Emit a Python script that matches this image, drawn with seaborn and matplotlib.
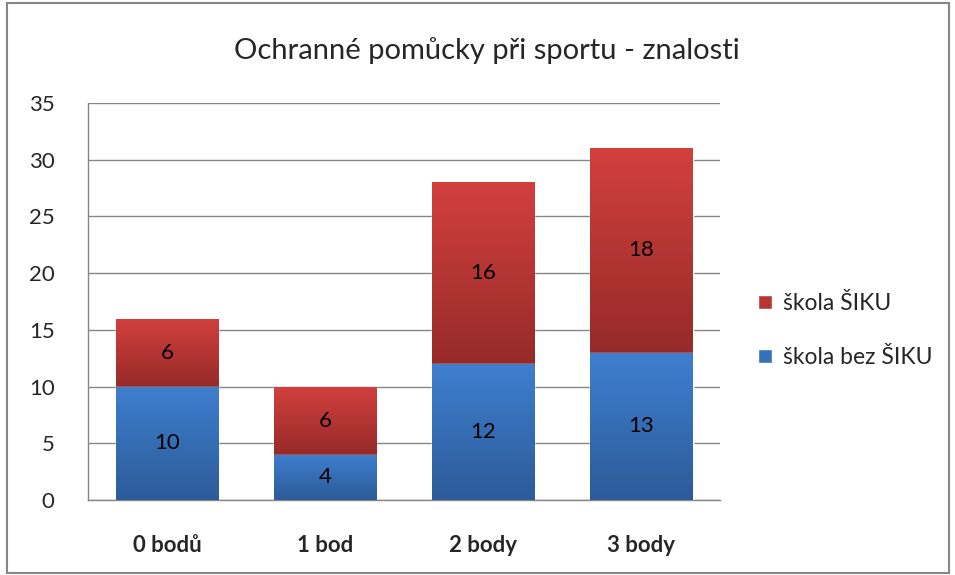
import matplotlib
matplotlib.use("Agg")
import matplotlib.pyplot as plt
from matplotlib.colors import LinearSegmentedColormap
from matplotlib.patches import Rectangle
import numpy as np
import pandas as pd
import seaborn as sns

categories = ["0 bodů", "1 bod", "2 body", "3 body"]
bez_siku = [10, 4, 12, 13]
siku = [6, 6, 16, 18]
series_names = ["škola ŠIKU", "škola bez ŠIKU"]
title = "Ochranné pomůcky při sportu - znalosti"

sns.set_style("white")
plt.rcParams["font.family"] = ["Lato", "DejaVu Sans"]

df = pd.DataFrame({"cat": categories, "bez": bez_siku, "siku": siku})
df["total"] = df["bez"] + df["siku"]

fig = plt.figure(figsize=(9.55, 5.75), dpi=100)
ax = fig.add_axes([0.0921, 0.1304, 0.6620, 0.6905])

blue_top, blue_bot = "#3E7FCF", "#2C5B98"
red_top, red_bot = "#D2403D", "#962A29"

sns.barplot(data=df, x="cat", y="total", color=red_top, width=0.65,
            saturation=1, ax=ax, zorder=2)
sns.barplot(data=df, x="cat", y="bez", color=blue_top, width=0.65,
            saturation=1, ax=ax, zorder=3)

# gradient fill for each bar segment
n = len(categories)
red_patches = ax.patches[:n]
blue_patches = ax.patches[n:2 * n]
grad = np.linspace(0, 1, 256).reshape(-1, 1)
cmap_red = LinearSegmentedColormap.from_list("r", [red_bot, red_top])
cmap_blue = LinearSegmentedColormap.from_list("b", [blue_bot, blue_top])
for i in range(n):
    rp, bp = red_patches[i], blue_patches[i]
    x0, w = rp.get_x(), rp.get_width()
    lo, hi = bez_siku[i], bez_siku[i] + siku[i]
    im = ax.imshow(grad, extent=[x0, x0 + w, lo, hi], origin="lower",
                   cmap=cmap_red, aspect="auto", zorder=2.5)
    im.set_clip_path(rp)
    im = ax.imshow(grad, extent=[x0, x0 + w, 0, lo], origin="lower",
                   cmap=cmap_blue, aspect="auto", zorder=3.5)
    im.set_clip_path(bp)
    ax.text(i, lo / 2, str(bez_siku[i]), ha="center", va="center",
            fontsize=16, color="black", zorder=5)
    ax.text(i, lo + siku[i] / 2, str(siku[i]), ha="center", va="center",
            fontsize=16, color="black", zorder=5)

ax.set_xlim(-0.5, n - 0.5)
ax.set_ylim(0, 35)
ax.set_yticks(range(0, 36, 5))
ax.yaxis.grid(True, color="#868686", linewidth=1)
ax.set_axisbelow(True)
ax.set_xlabel("")
ax.set_ylabel("")
for s in ["top", "right"]:
    ax.spines[s].set_visible(False)
for s in ["left", "bottom"]:
    ax.spines[s].set_color("#868686")
    ax.spines[s].set_linewidth(1)
ax.tick_params(axis="y", labelsize=16, length=0, pad=24)
ax.tick_params(axis="x", labelsize=16, length=0, pad=25)
for lbl in ax.get_xticklabels():
    lbl.set_fontweight("bold")

fig.text(0.51, 0.913, title, ha="center", va="center", fontsize=21)

handles = [Rectangle((0, 0), 1, 1, facecolor="#B93534"),
           Rectangle((0, 0), 1, 1, facecolor="#3570BA")]
fig.legend(handles, series_names, loc="center left",
           bbox_to_anchor=(0.772, 0.425), frameon=False, fontsize=16.5,
           handlelength=0.6, handleheight=0.6, handletextpad=0.5,
           labelspacing=1.45)

fig.patches.append(Rectangle((0.007, 0.004), 0.987, 0.991,
                             transform=fig.transFigure, fill=False,
                             edgecolor="#868686", linewidth=1.5))

fig.savefig("out.png", dpi=100)
